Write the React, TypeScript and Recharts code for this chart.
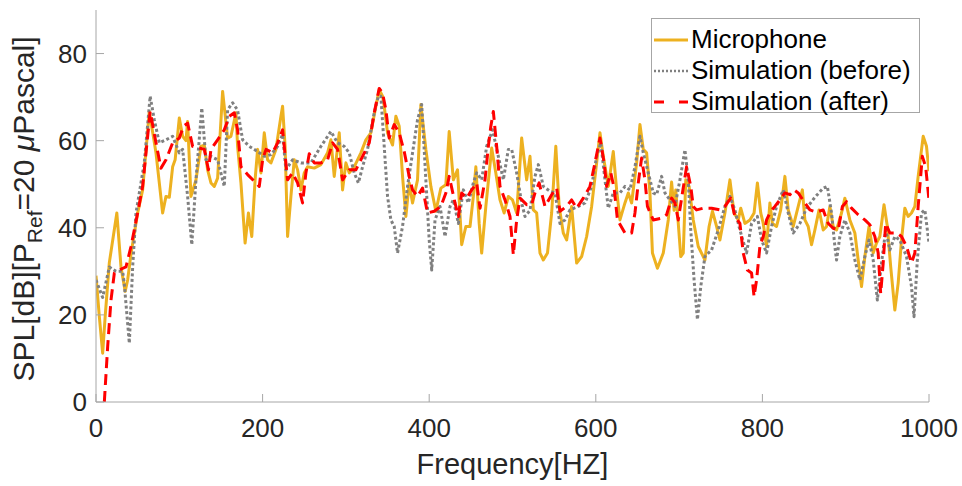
import { LineChart, Line, XAxis, YAxis, Legend } from 'recharts'

// [frequency Hz, SPL dB]
const microphone: [number, number][] = [
  [0, 29], [4, 19.6], [8, 11.2], [11, 19.6], [16, 32], [25, 43.4], [30, 31], [35, 25.4], [38, 28], [42, 34],
  [50, 43.4], [56, 48.7], [64, 66.7], [72, 57.2], [80, 43.4], [84, 47.2], [88, 47], [92, 54], [95, 55.6], [100, 65.2],
  [104, 61], [108, 60], [110, 64.4], [114, 47.2], [120, 51], [126, 58.7], [130, 59], [134, 53.3], [138, 50.3], [142, 49.5],
  [146, 51.4], [152, 71.3], [158, 60.6], [162, 61], [168, 66.4], [170, 58.7], [174, 50.3], [179, 36.5], [183, 43.4], [187, 38],
  [191, 51], [194, 58], [198, 52.6], [202, 61.8], [206, 55.6], [210, 54.9], [216, 58], [222, 65.6], [224, 67.9], [227, 58.7],
  [230, 38], [234, 47.2], [238, 55.6], [242, 53.3], [246, 48.7], [250, 52.6], [254, 54], [262, 53.7], [270, 54.5], [278, 57.2],
  [282, 60.2], [286, 51.8], [292, 61.8], [296, 48.7], [300, 54.9], [304, 52.6], [310, 54], [318, 57.2], [324, 60.2], [330, 61.8],
  [336, 67.9], [340, 71.7], [344, 70.2], [346, 67.9], [350, 61.8], [356, 59], [360, 65.6], [364, 63.3], [368, 51.8], [372, 42.6],
  [376, 50.3], [380, 45.7], [386, 51], [390, 68.3], [396, 58], [402, 49.5], [408, 43.8], [414, 49.1], [420, 49.9], [424, 62.1],
  [429, 51], [434, 53.3], [439, 36.1], [444, 40.3], [449, 40.3], [453, 47.2], [456, 54], [460, 41], [463, 34.2], [468, 44.9],
  [475, 58.3], [480, 52.6], [485, 46.4], [490, 43.4], [495, 47.2], [500, 46.4], [505, 43.4], [511, 60.6], [517, 51], [521, 56.4],
  [525, 44.1], [529, 43.4], [533, 34.2], [537, 32.6], [542, 34.2], [547, 43.4], [552, 58.7], [556, 44.9], [561, 38.8], [565, 37.2],
  [571, 44.9], [577, 31.9], [583, 33.4], [589, 38], [595, 44.9], [601, 54.9], [605, 61.8], [609, 56.4], [615, 49.5], [621, 57.5],
  [625, 48.7], [629, 41.8], [635, 45.7], [639, 48], [643, 45.7], [649, 54.9], [653, 63.7], [657, 58], [661, 57.2], [665, 48],
  [668, 34.2], [674, 30.7], [681, 34.2], [687, 41.8], [691, 50.5], [694, 44], [696, 48.7], [699, 41], [702, 33.4], [705, 34.2],
  [708, 51], [712, 49.5], [717, 41.8], [723, 35.7], [731, 32.6], [736, 40.3], [740, 43.8], [745, 40.3], [749, 37.2], [755, 43.4],
  [761, 51], [766, 43.4], [771, 41.8], [774, 44.5], [779, 41], [785, 41.8], [790, 43.4], [794, 50.3], [798, 43.4], [801, 41],
  [805, 35.7], [809, 45.7], [812, 41], [817, 40.3], [822, 44.1], [827, 51.8], [831, 44.1], [837, 40.3], [843, 44.9], [848, 48.7],
  [851, 41.8], [855, 40.3], [859, 36.1], [863, 39.5], [868, 44.1], [873, 39.5], [877, 40.3], [881, 44.9], [885, 40.3], [889, 39.5],
  [895, 43.4], [899, 46.8], [905, 41.8], [911, 38.8], [915, 32.6], [919, 26.5], [923, 33.4], [928, 40.3], [933, 34.2], [937, 36.5],
  [941, 38], [946, 45.3], [950, 40.3], [954, 31.1], [959, 21.1], [963, 27.3], [967, 37.2], [971, 44.5], [975, 42.6], [979, 43.4],
  [983, 44.9], [987, 51.8], [993, 61], [997, 58.7], [1000, 53],
]

const simulationBefore: [number, number][] = [
  [0, 28], [8, 24], [16, 31], [24, 30], [32, 30], [34, 27], [40, 13.5], [44, 31], [48, 43.4], [52, 48],
  [58, 55], [65, 70.2], [70, 64.8], [76, 59.5], [82, 60], [92, 61], [100, 57.2], [104, 58], [110, 47.2], [115, 36.1],
  [120, 51], [127, 67.5], [132, 55.6], [138, 56.4], [146, 55.6], [154, 49.5], [158, 67.1], [164, 68.7], [170, 67], [176, 60.2],
  [184, 58.7], [194, 57.5], [202, 56.4], [210, 56.8], [218, 58.7], [224, 61.4], [228, 53.3], [236, 55.6], [246, 54.9], [258, 54.9],
  [270, 58.7], [282, 62.1], [290, 59.5], [298, 58.7], [304, 57.2], [310, 52.6], [315, 50.3], [320, 54], [326, 58], [334, 66.4],
  [339, 70.2], [342, 70.2], [346, 58.7], [350, 47.2], [354, 41.8], [358, 40.3], [362, 34.2], [368, 40.3], [374, 49.5], [380, 57.2],
  [386, 64.8], [391, 68.3], [396, 51], [400, 37.2], [403, 30.3], [407, 41.8], [413, 44.9], [419, 38], [425, 44.9], [429, 46.4],
  [435, 41], [441, 48.7], [447, 45.7], [453, 50.3], [457, 52.6], [463, 51], [469, 58.7], [476, 62.5], [483, 56.4], [489, 51],
  [495, 58], [499, 58], [505, 52.6], [511, 45.7], [515, 42.6], [521, 44], [527, 51.8], [531, 54.5], [537, 49.5], [545, 48.4],
  [551, 48], [557, 41], [563, 41.8], [569, 44.1], [579, 44.9], [587, 45.7], [595, 49.5], [601, 56.4], [606, 59.5], [611, 51],
  [615, 44.5], [621, 48], [629, 48], [635, 49.5], [641, 48.7], [647, 54], [653, 61], [657, 57.2], [663, 52.6], [669, 48],
  [673, 47.6], [679, 51.8], [683, 48], [689, 46.4], [695, 44.9], [701, 51], [707, 57.9], [711, 51], [714, 39.5], [718, 28],
  [722, 18.9], [726, 26.5], [731, 33.4], [739, 34.9], [747, 39.5], [755, 44.9], [761, 47.2], [767, 44.1], [773, 39.5], [781, 34.2],
  [787, 41], [794, 42.6], [799, 37.2], [805, 34.2], [811, 40.3], [817, 44.9], [825, 48.7], [831, 43.4], [837, 38.8], [845, 41],
  [853, 44.5], [863, 47], [873, 49.1], [878, 49.5], [883, 43.4], [887, 35.7], [889, 32.6], [893, 38], [899, 41.8], [905, 38.8],
  [911, 32.6], [917, 28], [923, 33.4], [928, 37.2], [933, 32.6], [938, 23.4], [943, 31.9], [948, 39.5], [953, 34.9], [959, 38],
  [965, 37.2], [973, 33.4], [979, 26.5], [982, 19.6], [986, 32.6], [991, 43.4], [995, 44.1], [1000, 36.5],
]

const simulationAfter: [number, number][] = [
  [10, 0], [14, 12.7], [18, 23.4], [22, 29.6], [32, 30.7], [36, 31], [42, 35.7], [50, 43.4], [56, 49.5], [65, 66.7],
  [72, 59.5], [78, 53.7], [84, 55.6], [92, 59.5], [100, 60.6], [105, 63.3], [110, 64], [116, 58.7], [124, 58.3], [130, 58],
  [135, 53.3], [138, 58], [146, 60.2], [154, 62.5], [160, 65.6], [166, 66.4], [170, 62.5], [174, 54], [182, 52.2], [190, 50.7],
  [196, 49.5], [200, 55.6], [204, 58], [212, 57.2], [218, 59.5], [224, 62.5], [230, 51], [236, 52.6], [242, 50.3], [248, 45.7],
  [252, 52.6], [256, 57], [262, 54.9], [270, 54.9], [278, 55.6], [284, 59.5], [290, 58], [296, 51], [304, 53.3], [312, 53.3],
  [320, 56.4], [328, 59.5], [334, 66.4], [340, 72], [344, 70.9], [348, 67.1], [352, 60.6], [358, 63.7], [364, 61.8], [370, 57.5],
  [376, 51.8], [380, 48.7], [386, 47.2], [392, 49.1], [398, 43.4], [406, 43.8], [414, 44.9], [420, 48], [424, 51.8], [431, 45.7],
  [435, 42.6], [439, 48], [445, 46.8], [451, 48.7], [457, 50.3], [461, 44.5], [467, 51], [471, 58.7], [474, 63.3], [477, 66.7],
  [481, 58.7], [485, 49.5], [491, 46.4], [497, 42.6], [501, 33.8], [505, 41.8], [509, 46.8], [517, 45.3], [523, 45.3], [527, 48],
  [532, 50.3], [539, 44.9], [547, 47.6], [553, 49.1], [557, 43.8], [565, 44.9], [571, 46.4], [577, 44.5], [585, 46.8], [593, 49.5],
  [599, 54.9], [605, 60.6], [610, 54.9], [613, 49.5], [618, 52.6], [622, 49.1], [626, 41.8], [635, 38.8], [643, 38.8], [647, 43.4],
  [651, 50.3], [655, 56], [659, 51], [662, 44.9], [669, 41.8], [679, 42.2], [685, 43], [691, 46.8], [695, 45.7], [699, 41.8],
  [704, 48], [709, 54], [714, 49.5], [717, 44.9], [721, 44.1], [729, 44.5], [739, 44.5], [749, 44.1], [755, 44.9], [762, 46.8],
  [767, 42.6], [773, 41], [777, 34.2], [782, 30.3], [787, 29.6], [790, 24.2], [793, 28], [797, 35.7], [801, 38], [805, 41.8],
  [810, 43.8], [815, 44.9], [821, 46.4], [827, 48], [833, 47.6], [838, 48.7], [843, 48], [851, 45.7], [857, 44.1], [865, 43.6],
  [873, 44.1], [879, 41], [885, 39.9], [891, 39.5], [896, 44.9], [901, 46], [907, 44.5], [915, 43], [923, 41.8], [929, 40.7],
  [935, 38], [939, 34.2], [942, 24.9], [945, 31.9], [948, 41], [953, 38.8], [961, 38.8], [967, 38], [973, 35.7], [979, 31.9],
  [983, 34.2], [987, 44.9], [992, 56.4], [996, 54], [1000, 46.4],
]

const xTicks = [0, 200, 400, 600, 800, 1000]
const yTicks = [0, 20, 40, 60, 80]

const FONT = '"Liberation Sans", Arial, Helvetica, sans-serif'
const AXIS_COLOR = '#a6a6a6'
const TEXT_COLOR = '#262626'

const seriesList = [
  { key: 'mic', name: 'Microphone', points: microphone, color: '#EDB120', dash: undefined, legendDash: undefined },
  { key: 'before', name: 'Simulation (before)', points: simulationBefore, color: '#808080', dash: '3 2.5', legendDash: '2 2' },
  { key: 'after', name: 'Simulation (after)', points: simulationAfter, color: '#FF0000', dash: '11 6', legendDash: '10 15' },
]

const toRows = (pts: [number, number][]) => pts.map(([f, spl]) => ({ f, spl }))

function XTick({ x, y, payload }: any) {
  return (
    <g>
      <line x1={x} x2={x} y1={y} y2={y - 8} stroke={AXIS_COLOR} />
      <text x={x} y={y + 35} textAnchor="middle" fontSize={26} fill={TEXT_COLOR} fontFamily={FONT}>
        {payload.value}
      </text>
    </g>
  )
}

function YTick({ x, y, payload }: any) {
  return (
    <g>
      <line x1={x} x2={x + 8} y1={y} y2={y} stroke={AXIS_COLOR} />
      <text x={x - 9} y={y + 9.3} textAnchor="end" fontSize={26} fill={TEXT_COLOR} fontFamily={FONT}>
        {payload.value}
      </text>
    </g>
  )
}

function XLabel() {
  return (
    <text x={512.5} y={474} textAnchor="middle" fontSize={29} fill={TEXT_COLOR} fontFamily={FONT}>
      Frequency[HZ]
    </text>
  )
}

function YLabel() {
  return (
    <text
      x={34}
      y={209}
      transform="rotate(-90, 34, 209)"
      textAnchor="middle"
      fontSize={30}
      fill={TEXT_COLOR}
      fontFamily={FONT}
    >
      SPL[dB][P
      <tspan fontSize={21} dy={8}>Ref</tspan>
      <tspan dy={-8}>=20 </tspan>
      <tspan fontStyle="italic">μ</tspan>
      Pascal]
    </text>
  )
}

function LegendBox() {
  return (
    <div
      style={{
        width: 269,
        height: 95,
        boxSizing: 'border-box',
        border: `1px solid ${AXIS_COLOR}`,
        background: '#fff',
        fontFamily: FONT,
        fontSize: 26,
        color: '#000',
        paddingTop: 5,
      }}
    >
      {seriesList.map((s) => (
        <div key={s.key} style={{ display: 'flex', alignItems: 'center', height: 31, lineHeight: '31px' }}>
          <svg width={39} height={10} style={{ flex: 'none' }}>
            <line
              x1={2}
              x2={36}
              y1={5}
              y2={5}
              stroke={s.color}
              strokeWidth={s.key === 'before' ? 2.5 : 3}
              strokeDasharray={s.legendDash}
            />
          </svg>
          <span style={{ whiteSpace: 'nowrap' }}>{s.name}</span>
        </div>
      ))}
    </div>
  )
}

export default function App() {
  return (
    <div style={{ position: 'absolute', left: 0, top: 0, width: 962, height: 486, background: '#fff' }}>
      <LineChart width={962} height={486} margin={{ top: 10, right: 33, bottom: 0, left: 0 }}>
        <XAxis
          type="number"
          dataKey="f"
          domain={[0, 1000]}
          ticks={xTicks}
          height={84}
          tickSize={0}
          tickMargin={0}
          tickLine={false}
          axisLine={{ stroke: AXIS_COLOR }}
          tick={<XTick />}
          label={<XLabel />}
          allowDataOverflow
        />
        <YAxis
          type="number"
          domain={[0, 90]}
          ticks={yTicks}
          width={96}
          tickSize={0}
          tickMargin={0}
          tickLine={false}
          axisLine={{ stroke: AXIS_COLOR }}
          tick={<YTick />}
          label={<YLabel />}
          allowDataOverflow
        />
        <Legend
          layout="vertical"
          align="center"
          verticalAlign="middle"
          wrapperStyle={{ left: 651, top: 18, width: 269, height: 95 }}
          content={() => <LegendBox />}
        />
        {seriesList.map((s) => (
          <Line
            key={s.key}
            name={s.name}
            data={toRows(s.points)}
            dataKey="spl"
            type="linear"
            stroke={s.color}
            strokeWidth={3}
            strokeDasharray={s.dash}
            strokeLinejoin="round"
            dot={false}
            activeDot={false}
            isAnimationActive={false}
          />
        ))}
      </LineChart>
    </div>
  )
}
